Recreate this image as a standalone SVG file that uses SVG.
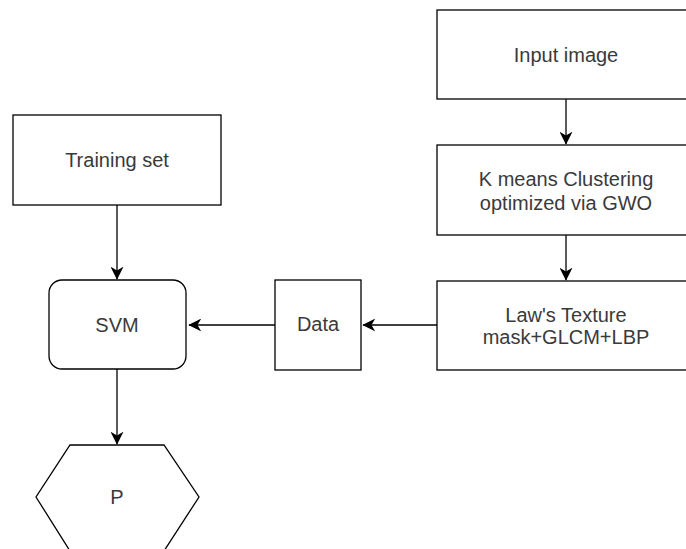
<svg xmlns="http://www.w3.org/2000/svg" width="686" height="549" viewBox="0 0 686 549">
<defs>
<style>
.box{fill:#fff;stroke:#000;stroke-width:1.3}
.lbl{font-family:"Liberation Sans",Arial,sans-serif;font-size:20px;fill:#3a3a3a;text-anchor:middle}
.conn{stroke:#000;stroke-width:1.3;fill:none}
</style>
<marker id="arr" viewBox="0 0 10 10" refX="9.5" refY="5" markerWidth="13" markerHeight="13" markerUnits="userSpaceOnUse" orient="auto">
<path d="M0,0 L10,5 L0,10 L3,5 Z" fill="#000"/>
</marker>
</defs>
<rect width="686" height="549" fill="#fff"/>
<g id="input-image">
<rect class="box" x="437" y="10" width="258" height="89"/>
<text class="lbl" x="566" y="62">Input image</text>
</g>
<g id="kmeans">
<rect class="box" x="437" y="145" width="258" height="90"/>
<text class="lbl" x="566" y="186">K means Clustering</text>
<text class="lbl" x="566" y="210">optimized via GWO</text>
</g>
<g id="laws">
<rect class="box" x="437" y="281" width="258" height="89"/>
<text class="lbl" x="566" y="322">Law's Texture</text>
<text class="lbl" x="566" y="344">mask+GLCM+LBP</text>
</g>
<g id="training-set">
<rect class="box" x="13" y="115" width="208" height="90"/>
<text class="lbl" x="117" y="167">Training set</text>
</g>
<g id="svm">
<rect class="box" x="49" y="280" width="137" height="89" rx="13" ry="13"/>
<text class="lbl" x="117" y="332">SVM</text>
</g>
<g id="data">
<rect class="box" x="275" y="280" width="86" height="90"/>
<text class="lbl" x="318" y="331">Data</text>
</g>
<g id="p">
<polygon class="box" points="70,445 164,445 199,497 164,551 70,551 36,497"/>
<text class="lbl" x="117" y="504">P</text>
</g>
<g id="connectors">
<line class="conn" x1="566" y1="99" x2="566" y2="144" marker-end="url(#arr)"/>
<line class="conn" x1="566" y1="235" x2="566" y2="280" marker-end="url(#arr)"/>
<line class="conn" x1="437" y1="325" x2="363" y2="325" marker-end="url(#arr)"/>
<line class="conn" x1="275" y1="325" x2="189" y2="325" marker-end="url(#arr)"/>
<line class="conn" x1="117" y1="205" x2="117" y2="279" marker-end="url(#arr)"/>
<line class="conn" x1="117" y1="369" x2="117" y2="444" marker-end="url(#arr)"/>
</g>
</svg>
